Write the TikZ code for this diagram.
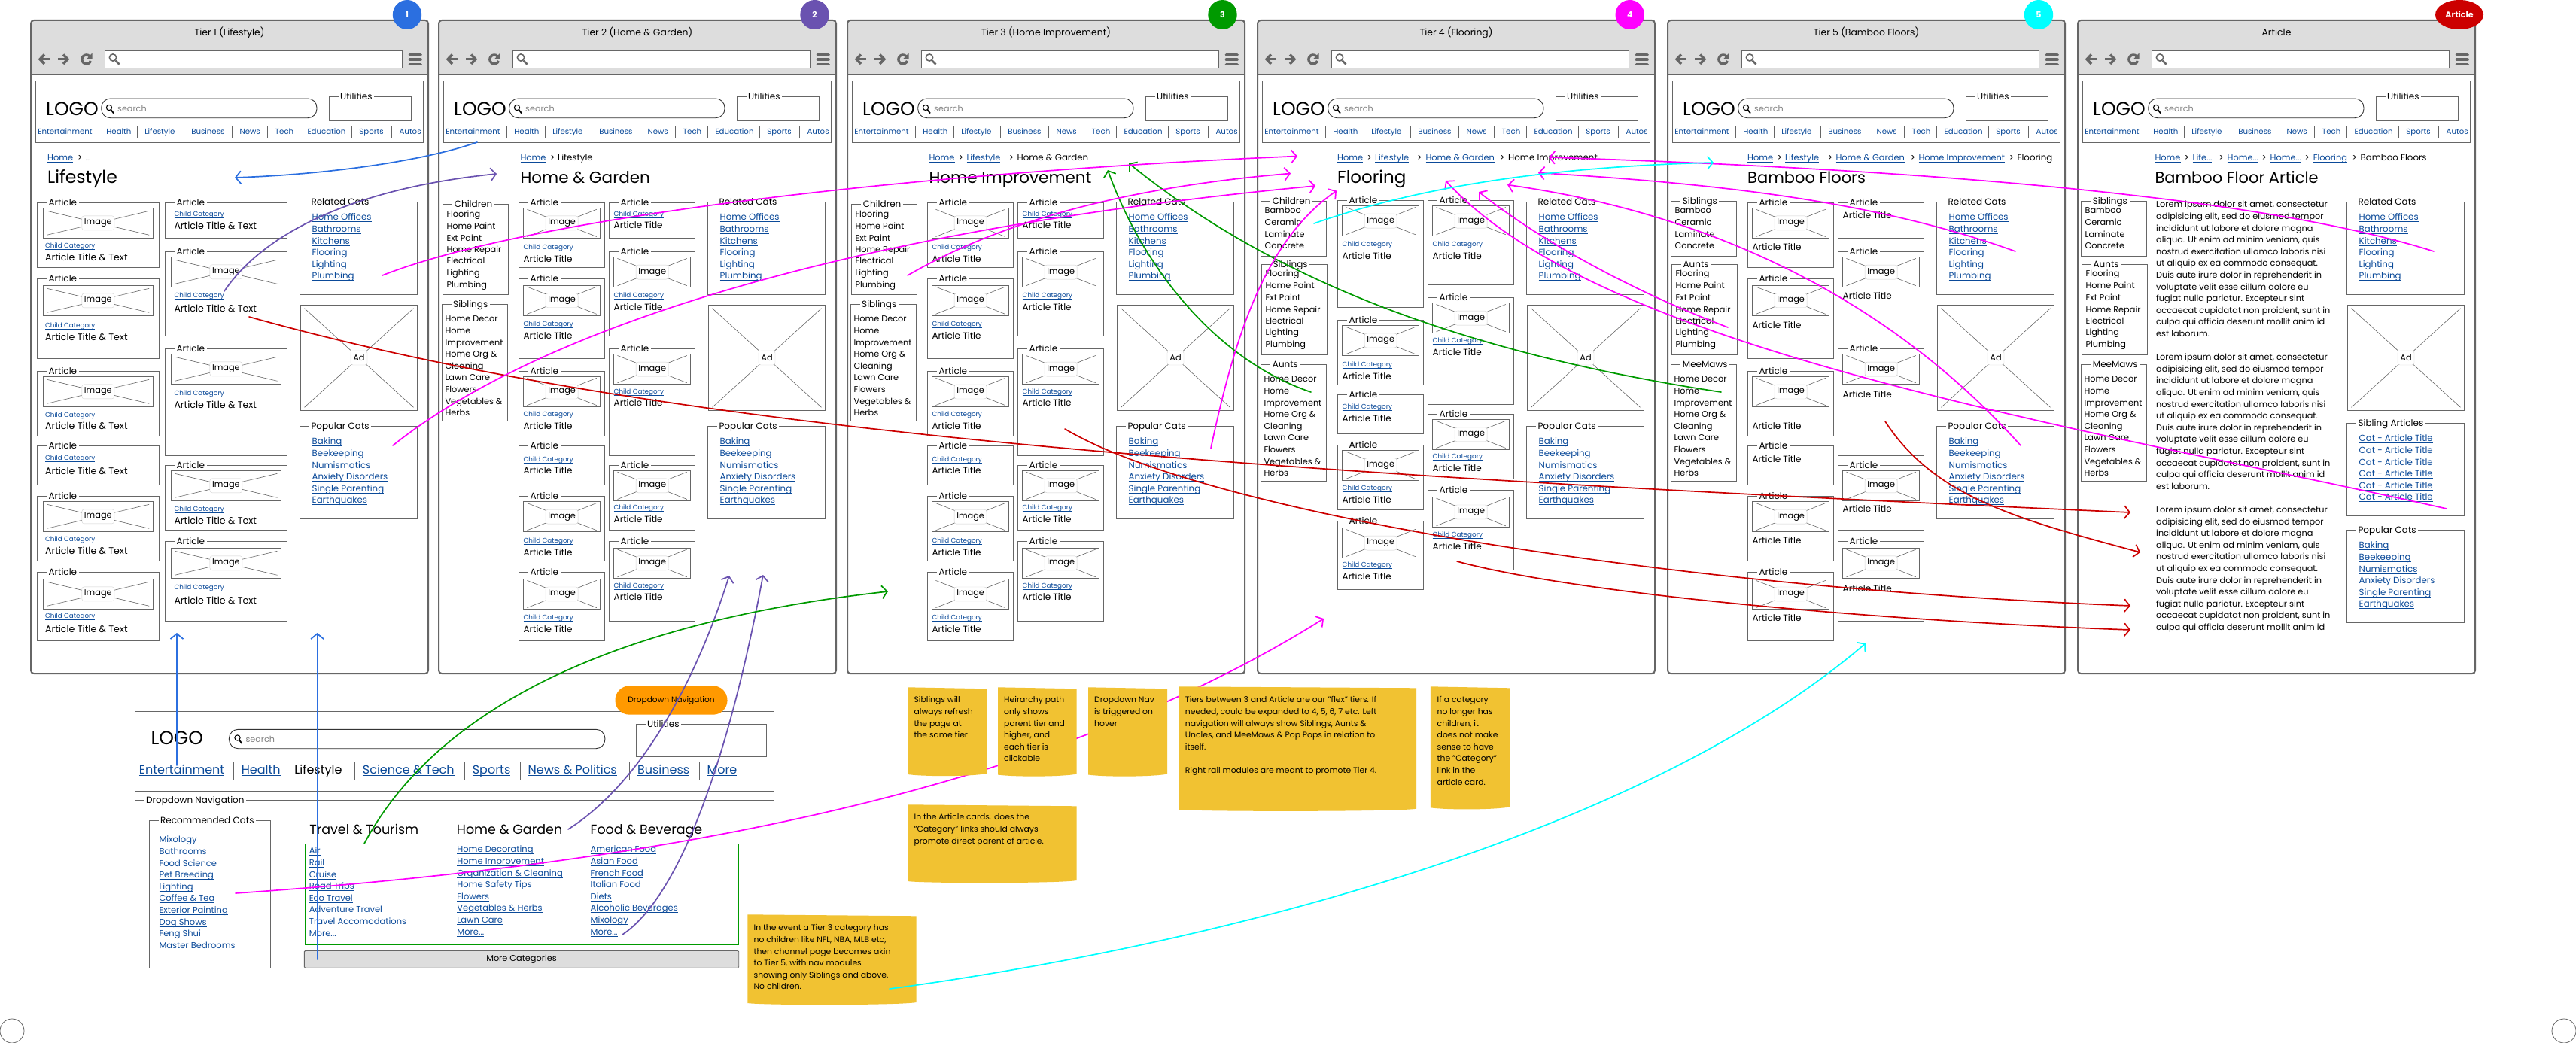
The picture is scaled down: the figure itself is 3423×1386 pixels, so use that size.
\documentclass[tikz,border=0pt]{standalone}
\usepackage{fontspec}
\setmainfont{Poppins}
\usetikzlibrary{arrows.meta,shapes.geometric}
\definecolor{frm}{HTML}{666666}
\definecolor{chrome}{HTML}{DDDDDD}
\definecolor{lnk}{HTML}{0B4A99}
\definecolor{cblue}{HTML}{2B6FE0}
\definecolor{cpur}{HTML}{6A52B0}
\definecolor{cgrn}{HTML}{009A00}
\definecolor{cmag}{HTML}{FF00FF}
\definecolor{cred}{HTML}{CC0000}
\definecolor{ccya}{HTML}{00FFFF}
\definecolor{stk}{HTML}{F1C232}
\definecolor{orng}{HTML}{FF9900}
\newcount\nid
\newcommand\ul[1]{\setbox0=\hbox{#1}\rlap{\rule[-2.2pt]{\wd0}{0.9pt}}\box0}
\newcommand\Tx[4][]{\global\advance\nid by 1\relax\node[txt,#1] (n\the\nid) at (#2,#3) {#4};}
\def\Mor{More...}
\tikzset{
 fs/.style={font=\fontsize{#1}{#1}\selectfont},
 txt/.style={anchor=base west,inner sep=0pt,yshift=-4pt,text=black,fs=11.3},
 lk/.style={text=lnk},
 ctr/.style={anchor=center,yshift=0pt},
 bigt/.style={fs=21.5,yshift=-3.5pt},
 crl/.style={fs=11.4,lk},
 crp/.style={fs=11.8},
 bx/.style={draw=frm,line width=0.9pt},
 xl/.style={draw=frm,line width=0.6pt},
 leg/.style={txt,fs=12,fill=white,inner xsep=2.5pt,inner ysep=0pt,xshift=-2.5pt,yshift=0pt},
 lab/.style={anchor=center,fill=white,draw=black!18,rounded corners=3pt,inner sep=0pt,fs=11.3,minimum height=19pt},
 icon/.style={draw=frm,line width=3.4pt},
 conn/.style={line width=1.7pt,line cap=round,-{Straight Barb[length=7pt,width=17pt]}},
 badge/.style={ellipse,inner sep=0pt,minimum height=39pt,text=white,font=\fontsize{11}{11}\selectfont\bfseries},
}
% fieldset: x0 x1 top bottom legend legend-x
\newcommand\fset[6]{\draw[bx] (#1,#3) rectangle (#2,#4);
 \global\advance\nid by 1\relax\node[leg] (n\the\nid) at (#6,#3) {#5};}
% image / ad placeholder
\newcommand\imgb[5]{\draw[bx,fill=white] (#1,#3) rectangle (#2,#4);
 \draw[xl] (#1+5,#3) ++(0,4) -- ({#2-5},{#4-4});
 \draw[xl] (#1+5,#4) ++(0,-4) -- ({#2-5},{#3+4});
 \global\advance\nid by 1\relax\node[lab,minimum width=#5pt] (n\the\nid) at ({(#1+#2)/2},{(#3+#4)/2}) {\ifdim#5pt>30pt Image\else Ad\fi};}
\def\imgin{6}\def\txin{6}\def\ttl{12}
% card: x0 x1 top bot imgtop imgbot childy titley title
\newcommand\crd[9]{\fset{#1}{#2}{#3}{#4}{Article}{#1+15}
 \def\tmpa{#5}\ifx\tmpa\empty\else\imgb{#1+\imgin}{#2-\imgin}{#5}{#6}{43}\fi
 \def\tmpa{#7}\ifx\tmpa\empty\else\Tx[fs=8.8,lk]{#1+\txin}{#7}{\ul{Child Category}}\fi
 \Tx[fs=\ttl]{#1+\txin}{#8}{#9}}
\newcommand\hdr{%
 \draw[bx] (6.5,107) rectangle (521.5,189.5);
 \Tx[fs=25,yshift=-4.5pt]{20}{144.7}{LOGO}
 \draw[draw=black!80,line width=0.9pt,rounded corners=12pt] (93.7,131) rectangle (380,156.7);
 \draw[black,line width=1.1pt] (104,143) circle (3.6);
 \draw[black,line width=1.8pt] (106.5,146) -- (110,150.5);
 \Tx[text=black!50,fs=11.2]{115}{144}{search}
 \fset{396.4}{505.5}{128.3}{160.3}{Utilities}{411}
 \foreach \tx/\ty in {9.1/Entertainment,100.2/Health,151.1/Lifestyle,213.1/Business,277.4/News,324.5/Tech,367.3/Education,436.2/Sports,489.4/Autos}
  {\Tx[fs=10.2,lk]{\tx}{174}{\ul{\ty}}}
 \foreach \tx in {90.3,141.5,203.5,267.8,314.5,357.4,426.4,479.8}
  {\draw[bx] (\tx,167) -- (\tx,184);}
}
% browser: x0 title
\newcommand\browser[2]{%
 \begin{scope}[xshift=#1pt]
 \path[fill=white,rounded corners=4pt] (0,27) rectangle (528,895);
 \path[fill=chrome] [rounded corners=4pt] (0,60) -- (0,27) -- (528,27) -- (528,60) [sharp corners] -- (528,98.7) -- (0,98.7) -- cycle;
 \draw[bx] (0,58.7) -- (528,58.7);
 \draw[bx] (0,98.7) -- (528,98.7);
 \draw[draw=frm,line width=2pt,rounded corners=4pt] (0,27) rectangle (528,895);
 \Tx[ctr,fs=12.4]{264}{39}{#2}
 \draw[icon] (25,78.7) -- (13,78.7); \draw[icon] (18,72.5) -- (12,78.7) -- (18,85);
 \draw[icon] (36,78.7) -- (48,78.7); \draw[icon] (43,72.5) -- (49,78.7) -- (43,85);
 \draw[icon] (79.5,81) arc[start angle=20,end angle=320,radius=6];
 \fill[frm] (81.5,70.5) -- (81.5,79) -- (73.5,79) -- cycle;
 \draw[draw=frm,line width=1pt,fill=white] (98.7,67.7) rectangle (493.6,90.3);
 \draw[frm,line width=1.6pt] (109,76.5) circle (4.6);
 \draw[frm,line width=2.6pt] (112.5,80.5) -- (117.5,85.5);
 \foreach \yy in {72.7,79.3,85.7} {\draw[draw=frm,line width=3.6pt,line cap=round] (503.5,\yy) -- (518,\yy);}
 \hdr
}
\newcommand\badgeT[4]{\global\advance\nid by 1\relax\node[badge,fill=#1,minimum width=#3pt] (n\the\nid) at (#2,19.5) {#4};}
\newcommand\relcats{\fset{357.4}{513.5}{268.3}{391.3}{Related Cats}{372.3}
 \foreach \ty/\tx in {288.3/Home Offices,304.3/Bathrooms,320.3/Kitchens,335.7/Flooring,351.7/Lighting,366.7/Plumbing}
  {\Tx[fs=11.8,lk]{373.5}{\ty}{\ul{\tx}}}}
\newcommand\adbox{\imgb{358.5}{513.5}{405.7}{545.3}{22}}
\newcommand\popcats[1]{\begin{scope}[yshift=-#1pt]
 \fset{357.4}{513.5}{566.3}{689.3}{Popular Cats}{372.3}
 \foreach \ty/\tx in {586.7/Baking,602.7/Beekeeping,618.3/Numismatics,633.7/Anxiety Disorders,649.3/Single Parenting,664.3/Earthquakes}
  {\Tx[fs=11.8,lk]{373.5}{\ty}{\ul{\tx}}}\end{scope}}
% left navigation for tiers 2/3
\newcommand\navB{\fset{5.3}{92.6}{271.4}{391.7}{Children}{20.6}
 \foreach \ty/\tx in {284/Flooring,300/Home Paint,316/Ext Paint,331.2/Home Repair,346.8/Electrical,362/Lighting,378/Plumbing}{\Tx{10.3}{\ty}{\tx}}
 \fset{4.6}{91.8}{404.5}{559.7}{Siblings}{19}
 \foreach \ty/\tx in {423.3/Home Decor,439.4/Home,455.5/Improvement,470.2/Home Org \&,486.2/Cleaning,501.4/Lawn Care,517.5/Flowers,533.5/Vegetables \&,548.2/Herbs}{\Tx{8.4}{\ty}{\tx}}}
% left navigation for tier 4, 5, article
\newcommand\navC[3]{\fset{4.7}{91.5}{267.3}{340.3}{#1}{19.7}
 \foreach \ty/\tx in {279.9/Bamboo,295.9/Ceramic,311.9/Laminate,326.9/Concrete}{\Tx{9.4}{\ty}{\tx}}
 \fset{5.4}{92.4}{351.3}{471.5}{#2}{20.4}
 \foreach \ty/\tx in {363.8/Flooring,379.9/Home Paint,395.9/Ext Paint,411.1/Home Repair,426.7/Electrical,441.8/Lighting,457.9/Plumbing}{\Tx{10.4}{\ty}{\tx}}
 \fset{4.7}{91.5}{484.5}{639.2}{#3}{19.7}
 \foreach \ty/\tx in {503.2/Home Decor,519.3/Home,535.4/Improvement,550.1/Home Org \&,566.1/Cleaning,581.3/Lawn Care,597.4/Flowers,613.4/Vegetables \&,628.6/Herbs}{\Tx{8.3}{\ty}{\tx}}}
\newcommand\cardsB{\begin{scope}[y=-0.45914pt,yshift=-180pt]
 \def\A{Article Title}
 \crd{106.4}{220.8}{195}{382}{210}{297}{322}{358}{\A}
 \crd{106.4}{220.8}{415}{646}{434}{521}{544}{580}{\A}
 \crd{106.4}{220.8}{683}{870}{698}{785}{805}{841}{\A}
 \crd{106.4}{220.8}{898}{1012}{}{}{936}{971}{\A}
 \crd{106.4}{220.8}{1044}{1232}{1060}{1147}{1171}{1207}{\A}
 \crd{106.4}{220.8}{1264}{1462}{1284}{1371}{1393}{1429}{\A}
 \crd{226.5}{340.8}{195}{297}{}{}{226}{261}{\A}
 \crd{226.5}{340.8}{336}{580}{352}{439}{461}{497}{\A}
 \crd{226.5}{340.8}{617}{927}{633}{720}{740}{775}{\A}
 \crd{226.5}{340.8}{955}{1142}{970}{1057}{1075}{1111}{\A}
 \crd{226.5}{340.8}{1175}{1406}{1194}{1282}{1302}{1337}{\A}
 \end{scope}}
\newcommand\sticky[4]{\fill[stk] (#1,#2) -- (#3,#2+2) -- (#3,#4-2) .. controls ({#3-20},#4+2) and ({#1+20},#4+2) .. (#1,#4-1) -- cycle;}
\def\La{Lorem ipsum dolor sit amet, consectetur}
\def\Lb{adipisicing elit, sed do eiusmod tempor}
\def\Lc{incididunt ut labore et dolore magna}
\def\Ld{aliqua. Ut enim ad minim veniam, quis}
\def\Le{nostrud exercitation ullamco laboris nisi}
\def\Lf{ut aliquip ex ea commodo consequat.}
\def\Lg{Duis aute irure dolor in reprehenderit in}
\def\Lh{voluptate velit esse cillum dolore eu}
\def\Li{fugiat nulla pariatur. Excepteur sint}
\def\Lj{occaecat cupidatat non proident, sunt in}
\def\Lk{culpa qui officia deserunt mollit anim id}
\def\Ll{est laborum.}
\begin{document}
\begin{tikzpicture}[x=1pt,y=-1pt]
\useasboundingbox (0,0) rectangle (3423,1386);
\fill[white] (0,0) rectangle (3423,1386);
\draw[draw=frm,line width=0.8pt] (16,1370) circle (16);
\draw[draw=frm,line width=0.8pt] (3407,1370) circle (16);

% ---------- Tier 1
\browser{41}{Tier 1 (Lifestyle)}
 \Tx[crl]{22}{209.7}{\ul{Home}} \Tx[crp]{62}{209.7}{>} \Tx[fs=10]{72.7}{209.7}{...}
 \Tx[bigt,fs=23.5]{22}{236}{Lifestyle}
 \def\imgin{8}\def\txin{10.5}\def\ttl{12.6}
 \def\A{Article Title \& Text}
 \crd{8.4}{170.2}{269.3}{355.3}{276.3}{316.3}{325.7}{342.3}{\A}
 \crd{8.4}{170.2}{370.3}{476.3}{379.3}{419.3}{431.7}{448.3}{\A}
 \crd{8.4}{170.2}{493.3}{579.3}{500.3}{540.3}{550}{566.3}{\A}
 \crd{8.4}{170.2}{592.3}{644.3}{}{}{607.7}{626.3}{\A}
 \crd{8.4}{170.2}{659.3}{745.3}{666.3}{706.3}{715.7}{732.3}{\A}
 \crd{8.4}{170.2}{760.3}{851.3}{769.3}{809.3}{817.7}{836}{\A}
 \def\txin{12}
 \crd{178.3}{340.5}{269.3}{316.3}{}{}{283.7}{300.3}{\A}
 \crd{178.3}{340.5}{334.3}{446.3}{341.3}{381.3}{391.7}{410.3}{\A}
 \crd{178.3}{340.5}{463.3}{605.3}{470.3}{510.3}{521.7}{538.3}{\A}
 \crd{178.3}{340.5}{618.3}{704.3}{625.3}{665.3}{675.7}{692.3}{\A}
 \crd{178.3}{340.5}{719.3}{825.3}{728.3}{768.3}{779.7}{798.3}{\A}
 \def\imgin{6}\def\txin{6}\def\ttl{12}
 \relcats \adbox \popcats{0}
 \badgeT{cblue}{500}{38.4}{1}
\end{scope}

% ---------- Tier 2
\browser{583}{Tier 2 (Home \& Garden)}
 \Tx[crl]{108.3}{209.7}{\ul{Home}} \Tx[crp]{148}{209.7}{>} \Tx[crp]{158}{209.7}{Lifestyle}
 \Tx[bigt]{108.3}{236}{Home \& Garden}
 \navB \cardsB
 \relcats \adbox \popcats{0}
 \badgeT{cpur}{499.5}{38.4}{2}
\end{scope}

% ---------- Tier 3
\browser{1126}{Tier 3 (Home Improvement)}
 \Tx[crl]{108.3}{209.7}{\ul{Home}} \Tx[crp]{147.6}{209.7}{>} \Tx[crl]{158.3}{209.7}{\ul{Lifestyle}}
 \Tx[crp]{214.7}{209.7}{>} \Tx[crp]{225.4}{209.7}{Home \& Garden}
 \Tx[bigt]{108.3}{236}{Home Improvement}
 \navB \cardsB
 \relcats \adbox \popcats{0}
 \badgeT{cgrn}{498.5}{38.4}{3}
\end{scope}

% ---------- Tier 4
\browser{1671}{Tier 4 (Flooring)}
 \Tx[crl]{106}{209.7}{\ul{Home}} \Tx[crp]{145.4}{209.7}{>} \Tx[crl]{156}{209.7}{\ul{Lifestyle}}
 \Tx[crp]{212}{209.7}{>} \Tx[crl]{223.3}{209.7}{\ul{Home \& Garden}}
 \Tx[crp]{322}{209.7}{>} \Tx[crp]{333}{209.7}{Home Improvement}
 \Tx[bigt,fs=23]{106}{236}{Flooring}
 \navC{Children}{Siblings}{Aunts}
 \begin{scope}[y=-0.45914pt,yshift=-180pt]
 \def\A{Article Title}
 \crd{106.5}{220.8}{188}{498}{204}{291}{313}{349}{\A}
 \crd{106.5}{220.8}{535}{722}{550}{637}{662}{698}{\A}
 \crd{106.5}{220.8}{750}{863}{}{}{784}{820}{\A}
 \crd{106.5}{220.8}{896}{1083}{911}{998}{1019}{1055}{\A}
 \crd{106.5}{220.8}{1116}{1314}{1136}{1223}{1241}{1277}{\A}
 \crd{226.5}{340.8}{188}{432}{204}{291}{313}{349}{\A}
 \crd{226.5}{340.8}{469}{778}{485}{572}{592}{628}{\A}
 \crd{226.5}{340.8}{807}{994}{822}{909}{927}{963}{\A}
 \crd{226.5}{340.8}{1027}{1258}{1046}{1134}{1154}{1190}{\A}
 \end{scope}
 \relcats \adbox \popcats{0}
 \badgeT{cmag}{494.7}{38.4}{4}
\end{scope}

% ---------- Tier 5
\browser{2216}{Tier 5 (Bamboo Floors)}
 \Tx[crl]{106}{209.7}{\ul{Home}} \Tx[crp]{145.4}{209.7}{>} \Tx[crl]{156}{209.7}{\ul{Lifestyle}}
 \Tx[crp]{212.6}{209.7}{>} \Tx[crl]{223.3}{209.7}{\ul{Home \& Garden}}
 \Tx[crp]{322.6}{209.7}{>} \Tx[crl]{333.3}{209.7}{\ul{Home Improvement}}
 \Tx[crp]{453.6}{209.7}{>} \Tx[crp]{464.4}{209.7}{Flooring}
 \Tx[bigt,fs=21]{106}{236}{Bamboo Floors}
 \navC{Siblings}{Aunts}{MeeMaws}
 \begin{scope}[y=-0.45914pt,yshift=-180pt]
 \def\A{Article Title}
 \crd{106.4}{220.8}{195}{382}{210}{297}{}{323}{\A}
 \crd{106.4}{220.8}{415}{646}{434}{521}{}{549}{\A}
 \crd{106.4}{220.8}{683}{870}{698}{785}{}{841}{\A}
 \crd{106.4}{220.8}{898}{1012}{}{}{}{937}{\A}
 \crd{106.4}{220.8}{1044}{1232}{1060}{1147}{}{1172}{\A}
 \crd{106.4}{220.8}{1264}{1462}{1284}{1371}{}{1398}{\A}
 \crd{226.5}{340.8}{195}{297}{}{}{}{232}{\A}
 \crd{226.5}{340.8}{336}{580}{352}{439}{}{466}{\A}
 \crd{226.5}{340.8}{617}{927}{633}{720}{}{750}{\A}
 \crd{226.5}{340.8}{955}{1142}{970}{1057}{}{1081}{\A}
 \crd{226.5}{340.8}{1175}{1406}{1194}{1282}{}{1312}{\A}
 \end{scope}
 \relcats \adbox \popcats{0}
 \badgeT{ccya}{493}{38.4}{5}
\end{scope}

% ---------- Article
\browser{2761}{Article}
 \Tx[crl]{102.3}{209.7}{\ul{Home}} \Tx[crp]{141.4}{209.7}{>} \Tx[crl]{152.5}{209.7}{\ul{Life...}}
 \Tx[crp]{187.3}{209.7}{>} \Tx[crl]{198.4}{209.7}{\ul{Home...}}
 \Tx[crp]{244.4}{209.7}{>} \Tx[crl]{255.5}{209.7}{\ul{Home...}}
 \Tx[crp]{301.4}{209.7}{>} \Tx[crl]{312.6}{209.7}{\ul{Flooring}}
 \Tx[crp]{364.5}{209.7}{>} \Tx[crp]{375.3}{209.7}{Bamboo Floors}
 \Tx[bigt,fs=21]{102.3}{236}{Bamboo Floor Article}
 \navC{Siblings}{Aunts}{MeeMaws}
 \Tx{104}{271.7}{\La} \Tx{104}{287.7}{\Lb} \Tx{104}{303.3}{\Lc} \Tx{104}{318.7}{\Ld}
 \Tx{104}{334.3}{\Le} \Tx{104}{349.7}{\Lf} \Tx{104}{365.3}{\Lg} \Tx{104}{381.3}{\Lh}
 \Tx{104}{396.7}{\Li} \Tx{104}{412.7}{\Lj} \Tx{104}{427.7}{\Lk} \Tx{104}{443.7}{\Ll}
 \Tx{104}{474.3}{\La} \Tx{104}{490.3}{\Lb} \Tx{104}{505.7}{\Lc} \Tx{104}{521.7}{\Ld}
 \Tx{104}{537.3}{\Le} \Tx{104}{552.7}{\Lf} \Tx{104}{568.3}{\Lg} \Tx{104}{583.7}{\Lh}
 \Tx{104}{599.7}{\Li} \Tx{104}{615.7}{\Lj} \Tx{104}{630.3}{\Lk} \Tx{104}{646.3}{\Ll}
 \Tx{104}{677.3}{\La} \Tx{104}{693.3}{\Lb} \Tx{104}{708.7}{\Lc} \Tx{104}{724.3}{\Ld}
 \Tx{104}{739.7}{\Le} \Tx{104}{755.7}{\Lf} \Tx{104}{771.7}{\Lg} \Tx{104}{786.7}{\Lh}
 \Tx{104}{802.7}{\Li} \Tx{104}{817.7}{\Lj} \Tx{104}{833.3}{\Lk}
 \relcats \adbox
 \fset{357.4}{513.5}{562.7}{685.3}{Sibling Articles}{372.3}
 \foreach \ty in {582.3,598.3,614.3,629.3,645.3,660.3}{\Tx[fs=11.8,lk]{373.5}{\ty}{\ul{Cat - Article Title}}}
 \popcats{138}
 \badgeT{cred}{507}{64}{Article}
\end{scope}

% ---------- Dropdown navigation mock-up
\draw[bx] (179.4,945.3) rectangle (1028.9,1051.3);
\Tx[fs=25,yshift=-4.5pt]{200.3}{980.7}{LOGO}
\draw[draw=black!80,line width=0.9pt,rounded corners=12pt] (304.4,969.3) rectangle (803.9,994.7);
\draw[black,line width=1.1pt] (315.5,980.5) circle (3.6);
\draw[black,line width=1.8pt] (318,983.5) -- (321.5,988);
\Tx[text=black!50,fs=11.2]{326.4}{982}{search}
\fset{845.7}{1018.8}{962.3}{1005.3}{Utilities}{860}
\foreach \tx/\ty in {184.6/Entertainment,320.6/Health,481.7/Science \& Tech,627.6/Sports,701.4/News \& Politics,846.8/Business,939.3/More}
 {\Tx[fs=16,yshift=-1.5pt,lk]{\tx}{1023.3}{\ul{\ty}}}
\Tx[fs=16,yshift=-1.5pt]{391.2}{1023.3}{Lifestyle}
\foreach \tx in {310.7,381.3,471.8,617.7,691.4,836.8,929.4}{\draw[bx] (\tx,1013) -- (\tx,1037);}
\fset{179.4}{1028.9}{1063.3}{1315.3}{Dropdown Navigation}{194}
\fset{198.8}{359.3}{1090.3}{1286.3}{Recommended Cats}{212.9}
\foreach \ty/\tx in {1115.7/Mixology,1131.7/Bathrooms,1147.7/Food Science,1162.7/Pet Breeding,1178.7/Lighting,1193.7/Coffee \& Tea,1209.7/Exterior Painting,1225.7/Dog Shows,1240.7/Feng Shui,1256.7/Master Bedrooms}
 {\Tx[fs=11.5,lk]{211.3}{\ty}{\ul{\tx}}}
\Tx[fs=17.5,yshift=-2pt]{411.1}{1102.7}{Travel \& Tourism}
\Tx[fs=17.5,yshift=-2pt]{606.7}{1102.7}{Home \& Garden}
\Tx[fs=17.5,yshift=-2pt]{784.5}{1102.7}{Food \& Beverage}
\draw[draw=cgrn,line width=0.9pt] (405.4,1121.3) rectangle (981.7,1255.3);
\foreach \ty/\tx in {1130.7/Air,1146.7/Rail,1162.7/Cruise,1177.7/Road Trips,1193.7/Eco Travel,1208.7/Adventure Travel,1224.7/Travel Accomodations,1240.7/\Mor}
 {\Tx[fs=11.5,lk]{410.6}{\ty}{\ul{\tx}}}
\foreach \ty/\tx in {1128.7/Home Decorating,1144.7/Home Improvement,1160.7/Organization \& Cleaning,1175.7/Home Safety Tips,1191.7/Flowers,1206.7/Vegetables \& Herbs,1222.7/Lawn Care,1238.7/\Mor}
 {\Tx[fs=11.5,lk]{607.2}{\ty}{\ul{\tx}}}
\foreach \ty/\tx in {1128.7/American Food,1144.7/Asian Food,1160.7/French Food,1175.7/Italian Food,1191.7/Diets,1206.7/Alcoholic Beverages,1222.7/Mixology,1238.7/\Mor}
 {\Tx[fs=11.5,lk]{784.5}{\ty}{\ul{\tx}}}
\node[draw=frm,fill=chrome,line width=0.9pt,rounded corners=1.5pt,minimum width=577.4pt,minimum height=23pt,inner sep=0pt,fs=11.3] (morecats) at (693,1274.8) {More Categories};
\node[fill=orng,rounded corners=19pt,minimum width=149pt,minimum height=38.4pt,inner sep=0pt,fs=10.6] (ddpill) at (892,930.5) {Dropdown Navigation};

% ---------- Connectors
\coordinate (b1a) at (634,189); \coordinate (b1b) at (312,236);
\draw[conn,cblue] (b1a) .. controls (560,215) and (430,232) .. (b1b);
\coordinate (b2a) at (235,1017); \coordinate (b2b) at (235,841);
\draw[conn,cblue] (b2a) -- (b2b);
\coordinate (b3a) at (421.6,1275); \coordinate (b3b) at (421.6,841);
\draw[conn,cblue] (b3a) -- (b3b);

\coordinate (p1a) at (298,387); \coordinate (p1b) at (660,231);
\draw[conn,cpur] (p1a) .. controls (350,310) and (470,250) .. (p1b);
\coordinate (p2a) at (755,1102); \coordinate (p2b) at (969,765);
\draw[conn,cpur] (p2a) .. controls (845,1045) and (920,920) .. (p2b);
\coordinate (p3a) at (827,1242); \coordinate (p3b) at (1014,764);
\draw[conn,cpur] (p3a) .. controls (905,1190) and (970,1000) .. (p3b);

\coordinate (g1a) at (484,1121); \coordinate (g1b) at (1180,786);
\draw[conn,cgrn] (g1a) .. controls (570,960) and (780,830) .. (g1b);
\coordinate (g2a) at (1742,521); \coordinate (g2b) at (1472,226);
\draw[conn,cgrn] (g2a) .. controls (1620,480) and (1520,360) .. (g2b);
\coordinate (g3a) at (2287,521); \coordinate (g3b) at (1500,217);
\draw[conn,cgrn] (g3a) .. controls (1950,470) and (1695,375) .. (g3b);

\coordinate (r1a) at (331,421); \coordinate (r1b) at (2831,681);
\draw[conn,cred] (r1a) .. controls (900,580) and (1700,630) .. (r1b);
\coordinate (r2a) at (1415,570); \coordinate (r2b) at (2831,805);
\draw[conn,cred] (r2a) .. controls (1600,680) and (2200,780) .. (r2b);
\coordinate (r3a) at (1936,746); \coordinate (r3b) at (2831,837);
\draw[conn,cred] (r3a) .. controls (2100,790) and (2500,825) .. (r3b);
\coordinate (r4a) at (2505,560); \coordinate (r4b) at (2844,734);
\draw[conn,cred] (r4a) .. controls (2570,660) and (2680,690) .. (r4b);

\coordinate (m1a) at (508,366); \coordinate (m1b) at (1724,207.5);
\draw[conn,cmag] (m1a) .. controls (700,290) and (1200,230) .. (m1b);
\coordinate (m2a) at (522,592); \coordinate (m2b) at (1748,247);
\draw[conn,cmag] (m2a) .. controls (700,450) and (1080,310) .. (m2b);
\coordinate (m3a) at (1206,366); \coordinate (m3b) at (1715,230.5);
\draw[conn,cmag] (m3a) .. controls (1320,300) and (1480,250) .. (m3b);
\coordinate (m4a) at (1609,595.5); \coordinate (m4b) at (1776,253.5);
\draw[conn,cmag] (m4a) .. controls (1640,450) and (1680,320) .. (m4b);
\coordinate (m5a) at (2678,334); \coordinate (m5b) at (2044,229.6);
\draw[conn,cmag] (m5a) .. controls (2500,270) and (2300,245) .. (m5b);
\coordinate (m6a) at (3234,334); \coordinate (m6b) at (2058,209);
\draw[conn,cmag] (m6a) .. controls (3000,260) and (2550,225) .. (m6b);
\coordinate (m7a) at (2685,592); \coordinate (m7b) at (2003,245.6);
\draw[conn,cmag] (m7a) .. controls (2540,430) and (2320,290) .. (m7b);
\coordinate (m8a) at (2296,435); \coordinate (m8b) at (1965,255);
\draw[conn,cmag] (m8a) .. controls (2190,395) and (2060,330) .. (m8b);
\coordinate (m9a) at (3251,676); \coordinate (m9b) at (1921,240);
\draw[conn,cmag] (m9a) .. controls (2780,570) and (2130,470) .. (m9b);
\coordinate (m10a) at (313,1187); \coordinate (m10b) at (1759,822);
\draw[conn,cmag] (m10a) .. controls (850,1150) and (1380,1060) .. (m10b);

\coordinate (c1a) at (1746,297); \coordinate (c1b) at (2277,216);
\draw[conn,ccya] (c1a) .. controls (1880,250) and (2050,222) .. (c1b);

% ---------- Sticky notes
\sticky{1206.3}{913.3}{1310.8}{1030}
\Tx[fs=10.8]{1214.4}{929.3}{Siblings will} \Tx[fs=10.8]{1214.4}{945.3}{always refresh}
\Tx[fs=10.8]{1214.4}{961.7}{the page at} \Tx[fs=10.8]{1214.4}{976.7}{the same tier}
\sticky{1326.2}{913.3}{1430.7}{1030.5}
\Tx[fs=10.8]{1334}{929.3}{Heirarchy path} \Tx[fs=10.8]{1334}{945.3}{only shows}
\Tx[fs=10.8]{1334}{961.7}{parent tier and} \Tx[fs=10.8]{1334}{976.7}{higher, and}
\Tx[fs=10.8]{1334}{992.7}{each tier is} \Tx[fs=10.8]{1334}{1007.3}{clickable}
\sticky{1446}{913.3}{1551.2}{1030.5}
\Tx[fs=10.8]{1454}{929.3}{Dropdown Nav} \Tx[fs=10.8]{1454}{945.3}{is triggered on} \Tx[fs=10.8]{1454}{961.7}{hover}
\sticky{1566}{912.3}{1882}{1076.7}
\Tx[fs=10.8]{1574.7}{929.3}{Tiers between 3 and Article are our "flex" tiers.  If}
\Tx[fs=10.8]{1574.7}{945.3}{needed, could be expanded to 4, 5, 6, 7 etc.  Left}
\Tx[fs=10.8]{1574.7}{961.7}{navigation will always show Siblings, Aunts \&}
\Tx[fs=10.8]{1574.7}{976.7}{Uncles, and MeeMaws \& Pop Pops in relation to}
\Tx[fs=10.8]{1574.7}{992.7}{itself.}
\Tx[fs=10.8]{1574.7}{1023.7}{Right rail modules are meant to promote Tier 4.}
\sticky{1900.8}{912.3}{2005.9}{1074.3}
\Tx[fs=10.8]{1909.5}{929.3}{If a category} \Tx[fs=10.8]{1909.5}{945.3}{no longer has}
\Tx[fs=10.8]{1909.5}{961.7}{children, it} \Tx[fs=10.8]{1909.5}{976.7}{does not make}
\Tx[fs=10.8]{1909.5}{992.7}{sense to have} \Tx[fs=10.8]{1909.5}{1007.3}{the "Category"}
\Tx[fs=10.8]{1909.5}{1023.7}{link in the} \Tx[fs=10.8]{1909.5}{1039.7}{article card.}
\sticky{1206.3}{1069.3}{1430.7}{1172}
\Tx[fs=10.8]{1214.4}{1085.7}{In the Article cards. does the}
\Tx[fs=10.8]{1214.4}{1101.7}{"Category" links should always}
\Tx[fs=10.8]{1214.4}{1117.7}{promote direct parent of article.}
\sticky{993.4}{1215.3}{1217.7}{1334}
\Tx[fs=10.8]{1001.4}{1232.7}{In the event a Tier 3 category has}
\Tx[fs=10.8]{1001.4}{1248.7}{no children like NFL, NBA, MLB etc,}
\Tx[fs=10.8]{1001.4}{1264.7}{then channel page becomes akin}
\Tx[fs=10.8]{1001.4}{1279.7}{to Tier 5, with nav modules}
\Tx[fs=10.8]{1001.4}{1295.7}{showing only Siblings and above.}
\Tx[fs=10.8]{1001.4}{1310.7}{No children.}

\coordinate (c2a) at (1182,1314); \coordinate (c2b) at (2479,855);
\draw[conn,ccya] (c2a) .. controls (1620,1255) and (2180,1110) .. (c2b);
\end{tikzpicture}
\end{document}
